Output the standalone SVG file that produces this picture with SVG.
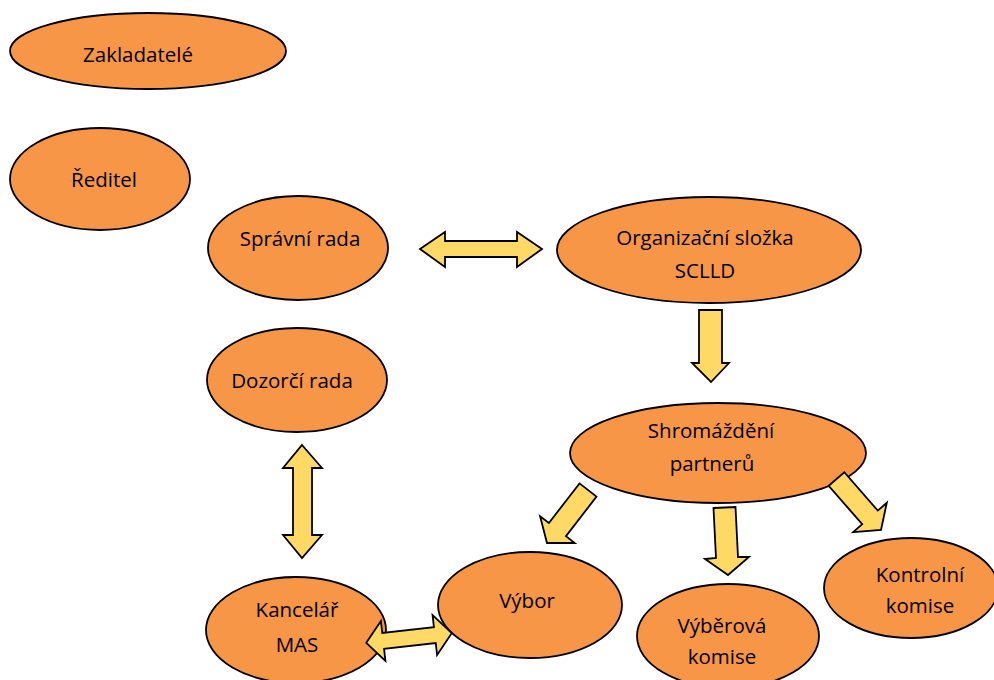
<svg xmlns="http://www.w3.org/2000/svg" width="994" height="680" viewBox="0 0 994 680">
<style>
.n{fill:#F79646;stroke:#000;stroke-width:1.8}
.a{fill:#FFD966;stroke:#000;stroke-width:1.8;stroke-linejoin:miter}
text{font-family:"Open Sans","Liberation Sans",sans-serif;font-size:20.5px;fill:#000;text-anchor:middle}
</style>
<rect width="994" height="680" fill="#fff"/>
<g id="zakladatele"><ellipse class="n" cx="148" cy="51" rx="138" ry="38"/><text x="138" y="62">Zakladatelé</text></g>
<g id="reditel"><ellipse class="n" cx="100" cy="179" rx="90" ry="51"/><text x="104" y="187">Ředitel</text></g>
<g id="spravni-rada"><ellipse class="n" cx="298" cy="248" rx="90" ry="52"/><text x="300" y="246">Správní rada</text></g>
<g id="organizacni-slozka"><ellipse class="n" cx="709" cy="250" rx="152" ry="53"/><text x="705" y="245">Organizační složka</text><text x="705" y="278">SCLLD</text></g>
<g id="dozorci-rada"><ellipse class="n" cx="297" cy="380" rx="90" ry="52"/><text x="292" y="388">Dozorčí rada</text></g>
<g id="shromazdeni"><ellipse class="n" cx="718" cy="453" rx="148" ry="50"/><text x="711" y="438">Shromáždění</text><text x="712" y="471">partnerů</text></g>
<g id="kancelar"><ellipse class="n" cx="296" cy="630" rx="90" ry="53"/><text x="297" y="617">Kancelář</text><text x="297" y="652">MAS</text></g>
<g id="vybor"><ellipse class="n" cx="530" cy="605" rx="92" ry="53"/><text x="527" y="608">Výbor</text></g>
<g id="vyberova-komise"><ellipse class="n" cx="728" cy="636" rx="91" ry="52"/><text x="722" y="633">Výběrová</text><text x="722" y="664">komise</text></g>
<g id="kontrolni-komise"><ellipse class="n" cx="911" cy="588" rx="87" ry="50"/><text x="920" y="582">Kontrolní</text><text x="920" y="613">komise</text></g>
<g id="connectors">
<polygon class="a" points="420,249 445,232 445,241 517,241 517,232 542,249 517,267 517,257 445,257 445,267"/>
<polygon class="a" points="699,310 722,310 722,363 729,363 711,382 692,363 699,363"/>
<polygon class="a" points="302,445 322,468 312,468 312,535 322,535 302,558 283,535 293,535 293,468 283,468"/>
<g transform="translate(409,638) rotate(-6.5)"><polygon class="a" points="-43,0 -26,-20 -26,-8 26,-8 26,-20 43,0 26,20 26,8 -26,8 -26,20"/></g>
<polygon class="a" points="579.5,483.4 596.5,496.6 566,536.2 574.7,543 547,543 540.1,516.2 548.9,523"/>
<polygon class="a" points="713.5,508 735.5,507 738,557 749,557 728,575 705,559 716,558"/>
<polygon class="a" points="828.7,485.8 844.3,472.2 877.8,510.6 886.8,502.7 881,530 853.2,532.1 862.2,524.2"/>
</g>
</svg>
